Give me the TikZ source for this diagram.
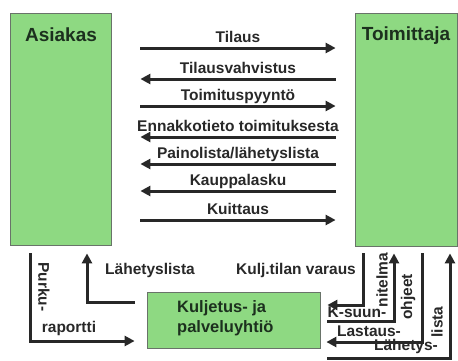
\documentclass[tikz,border=0pt]{standalone}
\usepackage{fontspec}
\setmainfont{Liberation Sans}
\usetikzlibrary{arrows.meta}
\definecolor{boxgreen}{RGB}{142,217,130}
\definecolor{boxedge}{RGB}{105,115,105}
\definecolor{boxtext}{RGB}{28,48,30}
\definecolor{flowgray}{RGB}{40,40,40}

\tikzset{
  box/.style={draw=boxedge, line width=0.8pt, fill=boxgreen, inner sep=0pt},
  flow/.style={line width=3pt, draw=flowgray, -{Triangle[length=10pt,width=10pt]}},
  lbl/.style={font=\fontsize{15.5}{18}\selectfont\bfseries, text=flowgray, inner sep=0pt},
  title/.style={font=\fontsize{19}{22}\selectfont\bfseries, text=boxtext, inner sep=0pt},
  goright/.style={shorten <=29pt, shorten >=19pt},
  goleft/.style={shorten <=19pt, shorten >=29pt},
  mid/.style={midway, lbl, anchor=base, yshift=6pt, xshift=5pt}
}

\begin{document}
\begin{tikzpicture}[x=1pt, y=-1pt]
\useasboundingbox (0,0) rectangle (458,360);
\node[box, minimum width=101pt, minimum height=232pt] (asiakas) at (60.5,129) {};
\node[box, minimum width=102pt, minimum height=233pt] (toimittaja) at (406,129.5) {};
\node[box, minimum width=173pt, minimum height=56pt] (kuljetus) at (233.5,320) {};
\node[title] (asiakasT) at (61,35) {Asiakas};
\node[title] (toimittajaT) at (406,36) {Toimittaja};
\node[title, font=\fontsize{16.5}{20}\selectfont\bfseries, align=left, anchor=west] (kuljetusT) at (177,318) {Kuljetus- ja\\palveluyhtiö};

\draw[flow, goright] (asiakas.east |- 0,48) -- node[mid] {Tilaus} (toimittaja.west |- 0,48);
\draw[flow, goleft] (toimittaja.west |- 0,79) -- node[mid] {Tilausvahvistus} (asiakas.east |- 0,79);
\draw[flow, goright] (asiakas.east |- 0,106) -- node[mid] {Toimituspyyntö} (toimittaja.west |- 0,106);
\draw[flow, goleft] (toimittaja.west |- 0,137) -- node[mid] {Ennakkotieto toimituksesta} (asiakas.east |- 0,137);
\draw[flow, goleft] (toimittaja.west |- 0,164) -- node[mid] {Painolista/lähetyslista} (asiakas.east |- 0,164);
\draw[flow, goleft] (toimittaja.west |- 0,191) -- node[mid] {Kauppalasku} (asiakas.east |- 0,191);
\draw[flow, goright] (asiakas.east |- 0,220) -- node[mid] {Kuittaus} (toimittaja.west |- 0,220);

\draw[flow, shorten <=8pt, shorten >=12pt] (asiakas.south -| 30,0) |- (kuljetus.west |- 0,341);
\draw[flow, shorten <=12pt, shorten >=8pt] (kuljetus.west |- 0,302) -| (asiakas.south -| 87,0);
\draw[flow, shorten <=7pt, shorten >=7pt] (toimittaja.south -| 363,0) |- (kuljetus.east |- 0,305);
\draw[flow, shorten <=7pt, shorten >=7pt] (kuljetus.east |- 0,321) -| (toimittaja.south -| 394,0);
\draw[flow, shorten <=7pt, shorten >=6pt] (toimittaja.south -| 422,0) |- (kuljetus.east |- 0,342);
\draw[flow, shorten <=7pt, shorten >=7pt] (kuljetus.east |- 0,358) -| (toimittaja.south -| 450,0);

\node[lbl] (purku) at (44,287) [rotate=-90] {Purku-};
\node[lbl] (raportti) at (69,328) {raportti};
\node[lbl] (lahetys1) at (150,270) {Lähetyslista};
\node[lbl] (varaus) at (296,270) {Kulj.tilan varaus};
\node[lbl] (ksuun) at (357,312) {K-suun-};
\node[lbl] (nitelma) at (382,280) [rotate=90] {nitelma};
\node[lbl, text depth=0pt] (lastaus) at (369,331) {Lastaus-};
\node[lbl] (ohjeet) at (408,297) [rotate=90] {ohjeet};
\node[lbl] (lahetys2) at (406,346) {Lähetys-};
\node[lbl] (lista) at (437,322) [rotate=90] {lista};
\end{tikzpicture}
\end{document}
